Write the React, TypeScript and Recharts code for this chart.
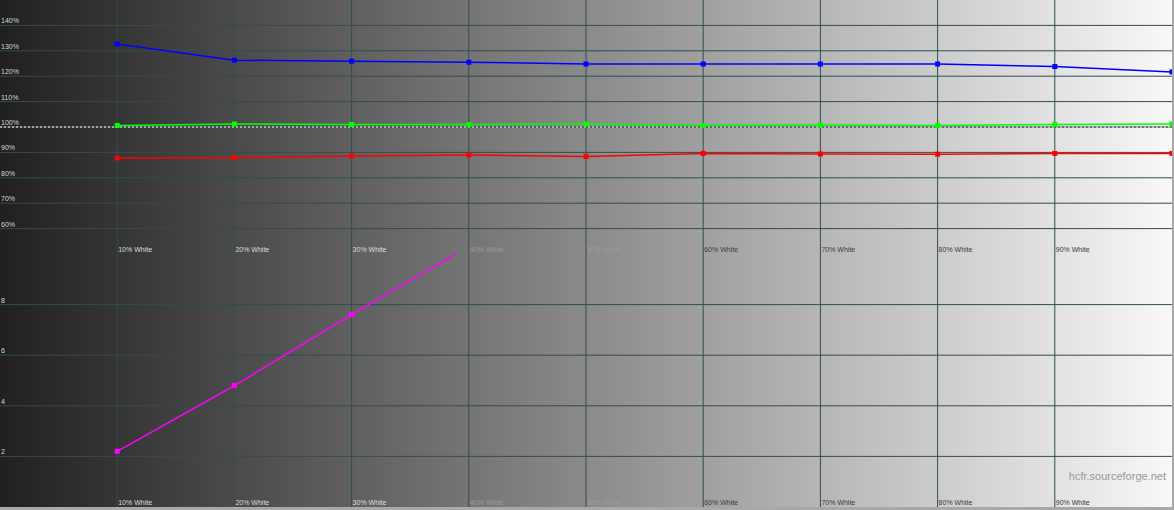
import { CartesianGrid, Line, LineChart, ReferenceLine, XAxis, YAxis } from "recharts"

const levels = [10, 20, 30, 40, 50, 60, 70, 80, 90, 100]
const levelTicks = [10, 20, 30, 40, 50, 60, 70, 80, 90]
const levelLabels = ["10% White", "20% White", "30% White", "40% White", "50% White", "60% White", "70% White", "80% White", "90% White"]

const redBalance = [87.8, 87.9, 88.6, 89.0, 88.4, 89.6, 89.4, 89.3, 89.6, 89.6]
const greenBalance = [100.6, 101.2, 101.0, 101.0, 101.2, 100.6, 100.8, 100.6, 101.0, 101.2]
const blueBalance = [132.7, 126.3, 125.9, 125.5, 124.8, 124.8, 124.8, 124.8, 123.8, 121.7]
const deltaE: (number | null)[] = [2.2, 4.8, 7.6, 10.3, null, null, null, null, null, null]

const balanceTicks = [60, 70, 80, 90, 100, 110, 120, 130, 140]
const balanceTickLabels = ["60%", "70%", "80%", "90%", "100%", "110%", "120%", "130%", "140%"]
const deltaTicks = [2, 4, 6, 8]

const W = 1172
const TOP_H = 254
const BOTTOM_H = 253
const GRID = "#2f4f4f"
const FONT = "'Liberation Sans', Arial, sans-serif"

const rows = levels.map((level, i) => ({
  level,
  red: redBalance[i],
  green: greenBalance[i],
  blue: blueBalance[i],
  de: deltaE[i],
}))

function labelColor(v: number) {
  if (v <= 30) return "#dcdcdc"
  if (v <= 50) return "#9c9c9c"
  return "#3c3c3c"
}

function XTick(props: any) {
  const v = props.payload.value
  const idx = levelTicks.indexOf(v)
  return (
    <text x={props.x + 1} y={props.panelH - 2} fontSize={7} fontFamily={FONT} fill={labelColor(v)} textAnchor="start">
      {levelLabels[idx]}
    </text>
  )
}

function YTick(props: any) {
  const v = props.payload.value
  const label = props.pct ? balanceTickLabels[balanceTicks.indexOf(v)] : String(v)
  return (
    <text x={1} y={props.y - 2} fontSize={7} fontFamily={FONT} fill="#d8d8d8" textAnchor="start">
      {label}
    </text>
  )
}

function SquareDot(props: any) {
  const { cx, cy, value, color } = props
  if (cx == null || cy == null || value == null) return null
  return <rect x={cx - 2.5} y={cy - 2.5} width={5} height={5} fill={color} />
}

export default function App() {
  return (
    <div style={{ position: "absolute", top: 0, left: 0, width: 1174, height: 510, background: "#a8a8a8" }}>
      <div
        style={{
          position: "absolute",
          top: 0,
          left: 0,
          width: W,
          height: 507,
          background: "linear-gradient(to right, #202020 0%, #8a8a8a 50%, #f8f8f8 100%)",
        }}
      >
        <LineChart width={W} height={TOP_H} data={rows} margin={{ top: 0, right: 0, left: -1, bottom: -1 }}>
          <CartesianGrid stroke={GRID} strokeWidth={1} horizontalValues={balanceTicks} verticalValues={levelTicks} />
          <XAxis
            dataKey="level"
            type="number"
            domain={[0, 100]}
            ticks={levelTicks}
            interval={0}
            height={1}
            axisLine={false}
            tickLine={false}
            tick={<XTick panelH={TOP_H} />}
          />
          <YAxis
            type="number"
            domain={[50, 150]}
            ticks={balanceTicks}
            interval={0}
            width={1}
            axisLine={false}
            tickLine={false}
            tick={<YTick pct />}
          />
          <ReferenceLine y={100} stroke="#505050" strokeWidth={1} />
          <ReferenceLine y={100} stroke="#ffffff" strokeWidth={1} strokeDasharray="2 2" />
          <Line dataKey="blue" type="linear" stroke="#0000ff" strokeWidth={1.5} dot={<SquareDot color="#0000ff" />} activeDot={false} isAnimationActive={false} />
          <Line dataKey="green" type="linear" stroke="#00ff00" strokeWidth={1.5} dot={<SquareDot color="#00ff00" />} activeDot={false} isAnimationActive={false} />
          <Line dataKey="red" type="linear" stroke="#ff0000" strokeWidth={1.5} dot={<SquareDot color="#ff0000" />} activeDot={false} isAnimationActive={false} />
        </LineChart>
        <LineChart width={W} height={BOTTOM_H} data={rows} margin={{ top: 0, right: 0, left: -1, bottom: -1 }}>
          <CartesianGrid stroke={GRID} strokeWidth={1} horizontalValues={deltaTicks} verticalValues={levelTicks} />
          <XAxis
            dataKey="level"
            type="number"
            domain={[0, 100]}
            ticks={levelTicks}
            interval={0}
            height={1}
            axisLine={false}
            tickLine={false}
            tick={<XTick panelH={BOTTOM_H} />}
          />
          <YAxis
            type="number"
            domain={[0, 10]}
            ticks={deltaTicks}
            interval={0}
            width={1}
            axisLine={false}
            tickLine={false}
            allowDataOverflow
            tick={<YTick />}
          />
          <Line dataKey="de" type="linear" stroke="#ff00ff" strokeWidth={1.5} dot={<SquareDot color="#ff00ff" />} activeDot={false} isAnimationActive={false} />
        </LineChart>
      </div>
      <div
        style={{
          position: "absolute",
          right: 8,
          top: 470,
          fontFamily: FONT,
          fontSize: 11,
          color: "#9a9a9a",
        }}
      >
        hcfr.sourceforge.net
      </div>
    </div>
  )
}
